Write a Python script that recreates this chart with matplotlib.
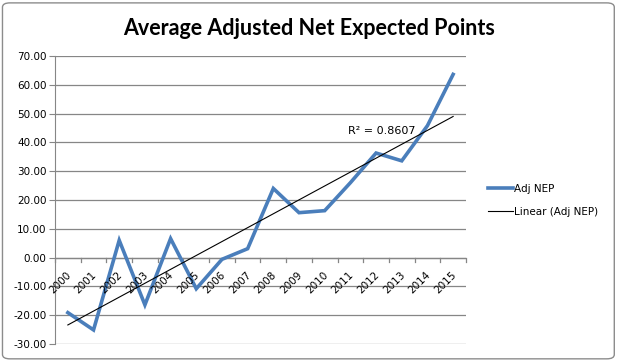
import numpy as np
import matplotlib.pyplot as plt
from matplotlib.patches import FancyBboxPatch
from matplotlib.lines import Line2D

years = [str(y) for y in range(2000, 2016)]
adj_nep = [-19.1, -25.1, 6.0, -16.4, 6.6, -10.8, -0.6, 3.1,
           24.0, 15.6, 16.3, 26.0, 36.3, 33.6, 45.8, 63.6]
y_ticks = [-30, -20, -10, 0, 10, 20, 30, 40, 50, 60, 70]

x = np.arange(len(years))
y = np.array(adj_nep)
slope, intercept = np.polyfit(x, y, 1)
trend = slope * x + intercept
r2 = 1 - np.sum((y - trend) ** 2) / np.sum((y - y.mean()) ** 2)

fig = plt.figure(figsize=(6.18, 3.61), dpi=100)
fig.patch.set_facecolor('white')
border = FancyBboxPatch((0.004, 0.006), 0.99, 0.986, boxstyle='round,pad=0,rounding_size=0.012',
                        transform=fig.transFigure, facecolor='none', edgecolor='#8c8c8c',
                        lw=1.0, zorder=-1)
fig.patches.append(border)

ax = fig.add_axes([0.089, 0.047, 0.665, 0.798])
ax.set_facecolor('none')
ax.plot(x, y, color='#4a7ebb', lw=2.6, solid_joinstyle='miter')
ax.plot(x, trend, color='black', lw=0.8)

ax.set_xlim(-0.5, len(years) - 0.5)
ax.set_ylim(-30, 70)
ax.set_yticks(y_ticks)
ax.set_yticklabels([f'{v:.2f}' for v in y_ticks], fontsize=7.5, family='DejaVu Sans')
ax.grid(axis='y', color='#868686', lw=0.9)
ax.set_axisbelow(True)
ax.tick_params(axis='y', length=4, color='#868686', pad=2)

for s in ['top', 'right', 'bottom']:
    ax.spines[s].set_visible(False)
ax.spines['left'].set_color('#868686')

# category axis crossing at zero
ax.axhline(0, color='#868686', lw=0.9, zorder=0.5)
ax.set_xticks([])
for i in range(len(years) + 1):
    ax.plot([i - 0.5, i - 0.5], [0, -1.4], color='#868686', lw=0.9, clip_on=False, zorder=0.5)
for i, yr in enumerate(years):
    ax.text(i + 0.2, -4.3, yr, rotation=45, ha='right', va='top', fontsize=7.5,
            family='DejaVu Sans')

ax.text(10.9, 42.8, f'R² = {r2:.4f}', fontsize=8, family='DejaVu Sans')

fig.text(0.5, 0.92, 'Average Adjusted Net Expected Points', ha='center', va='center',
         fontsize=15.5, fontweight='bold', family='Lato')

handles = [Line2D([], [], color='#4a7ebb', lw=2.6), Line2D([], [], color='black', lw=0.8)]
fig.legend(handles, ['Adj NEP', 'Linear (Adj NEP)'], loc='center left',
           bbox_to_anchor=(0.775, 0.445), frameon=False,
           handlelength=2.4, handletextpad=0.1, labelspacing=1.2,
           prop={'family': 'DejaVu Sans', 'size': 7.5})

fig.savefig('out.png', dpi=100)
